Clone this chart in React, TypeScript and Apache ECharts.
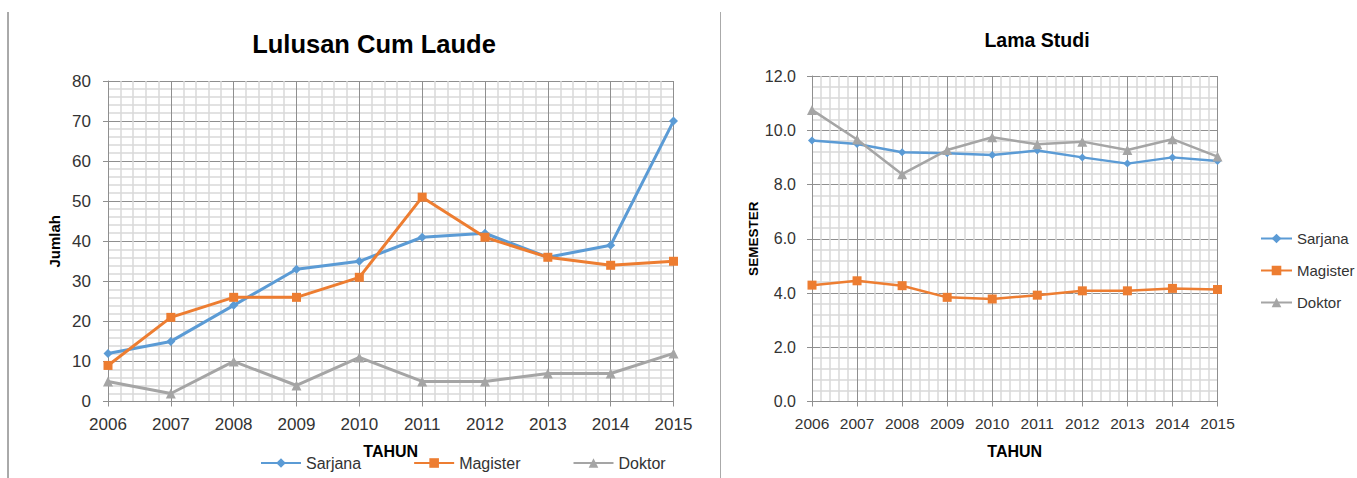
import React, { useEffect, useRef } from "react";
import * as echarts from "echarts";

// Tahun pengamatan
const years = [2006, 2007, 2008, 2009, 2010, 2011, 2012, 2013, 2014, 2015];

// Jumlah lulusan cum laude per jenjang
const cumLaudeSarjana = [12, 15, 24, 33, 35, 41, 42, 36, 39, 70];
const cumLaudeMagister = [9, 21, 26, 26, 31, 51, 41, 36, 34, 35];
const cumLaudeDoktor = [5, 2, 10, 4, 11, 5, 5, 7, 7, 12];

// Lama studi (semester) per jenjang
const studiSarjana = [9.62, 9.49, 9.19, 9.15, 9.09, 9.25, 9.0, 8.77, 9.0, 8.87];
const studiMagister = [4.29, 4.45, 4.27, 3.84, 3.78, 3.92, 4.08, 4.08, 4.17, 4.13];
const studiDoktor = [10.75, 9.66, 8.38, 9.27, 9.74, 9.48, 9.58, 9.27, 9.67, 9.03];

const seriesNames = ["Sarjana", "Magister", "Doktor"];
const colors = ["#5B9BD5", "#ED7D31", "#A5A5A5"];
const symbols = ["diamond", "rect", "triangle"];

const FONT = "'Liberation Sans', Arial, sans-serif";
const MAJOR = "#8f8f8f";
const MINOR = "#d9d9d9";

const pairs = (vals: number[]) => years.map((y, i) => [y, vals[i]]);

function xAxisFor(gridIndex: number, fontSize: number) {
  return {
    type: "value",
    gridIndex,
    min: 2006,
    max: 2015,
    interval: 1,
    name: "TAHUN",
    nameLocation: "middle",
    nameGap: 42,
    nameTextStyle: { fontFamily: FONT, fontWeight: "bold", fontSize: 16, color: "#000" },
    axisLine: { show: true, lineStyle: { color: MAJOR, width: 1 } },
    axisTick: { show: true, length: 5, lineStyle: { color: MAJOR } },
    axisLabel: {
      margin: 14,
      fontFamily: FONT,
      fontSize,
      color: "#333",
      formatter: (v: number) => String(v),
    },
    splitLine: { show: true, lineStyle: { color: MAJOR, width: 1 } },
    minorTick: { show: false, splitNumber: 5 },
    minorSplitLine: { show: true, lineStyle: { color: MINOR, width: 1.5 } },
  };
}

function yAxisFor(
  gridIndex: number,
  max: number,
  interval: number,
  name: string,
  nameSize: number,
  nameGap: number,
  fontSize: number,
  margin: number,
  digits: number
) {
  return {
    type: "value",
    gridIndex,
    min: 0,
    max,
    interval,
    name,
    nameLocation: "middle",
    nameGap,
    nameTextStyle: { fontFamily: FONT, fontWeight: "bold", fontSize: nameSize, color: "#000" },
    axisLine: { show: true, lineStyle: { color: MAJOR, width: 1 } },
    axisTick: { show: true, length: 5, lineStyle: { color: MAJOR } },
    axisLabel: {
      margin,
      fontFamily: FONT,
      fontSize,
      color: "#333",
      formatter: (v: number) => v.toFixed(digits),
    },
    splitLine: { show: true, lineStyle: { color: MAJOR, width: 1 } },
    minorTick: { show: false, splitNumber: 5 },
    minorSplitLine: { show: true, lineStyle: { color: MINOR, width: 1.5 } },
  };
}

function lineSeries(idx: number, axisIndex: number, vals: number[], lineWidth: number, sizes: number[]) {
  return {
    type: "line",
    name: seriesNames[idx],
    xAxisIndex: axisIndex,
    yAxisIndex: axisIndex,
    data: pairs(vals),
    symbol: symbols[idx],
    symbolSize: sizes[idx],
    showAllSymbol: true,
    color: colors[idx],
    lineStyle: { color: colors[idx], width: lineWidth },
    itemStyle: { color: colors[idx] },
  };
}

export default function App() {
  const ref = useRef<HTMLDivElement>(null);

  useEffect(() => {
    if (!ref.current) return;
    const chart = echarts.init(ref.current, null, { renderer: "svg" });
    const leftSizes = [9, 9, 10];
    const rightSizes = [8, 9, 10];

    chart.setOption({
      animation: false,
      backgroundColor: "#ffffff",
      title: [
        {
          text: "Lulusan Cum Laude",
          left: 374,
          top: 31,
          textAlign: "center",
          padding: 0,
          textStyle: { fontFamily: FONT, fontWeight: "bold", fontSize: 25.5, color: "#000" },
        },
        {
          text: "Lama Studi",
          left: 1037,
          top: 30,
          textAlign: "center",
          padding: 0,
          textStyle: { fontFamily: FONT, fontWeight: "bold", fontSize: 19.5, color: "#000" },
        },
      ],
      legend: [
        {
          data: seriesNames,
          orient: "horizontal",
          left: 260,
          top: 455,
          padding: 0,
          itemWidth: 40,
          itemHeight: 12,
          itemGap: 52,
          textStyle: { fontFamily: FONT, fontSize: 16, color: "#333" },
        },
        {
          data: seriesNames,
          orient: "vertical",
          left: 1260,
          top: 231,
          padding: 0,
          itemWidth: 31,
          itemHeight: 12,
          itemGap: 17,
          textStyle: { fontFamily: FONT, fontSize: 15, color: "#333" },
        },
      ],
      grid: [
        { left: 108, top: 81, width: 565.5, height: 320.5, containLabel: false },
        { left: 812, top: 76, width: 405.5, height: 325.5, containLabel: false },
      ],
      xAxis: [xAxisFor(0, 17), xAxisFor(1, 15.5)],
      yAxis: [
        yAxisFor(0, 80, 10, "Jumlah", 15, 46, 17, 17, 0),
        yAxisFor(1, 12, 2, "SEMESTER", 13.5, 52, 16, 16, 1),
      ],
      series: [
        lineSeries(0, 0, cumLaudeSarjana, 3, leftSizes),
        lineSeries(1, 0, cumLaudeMagister, 3, leftSizes),
        lineSeries(2, 0, cumLaudeDoktor, 3, leftSizes),
        lineSeries(0, 1, studiSarjana, 2.5, rightSizes),
        lineSeries(1, 1, studiMagister, 2.5, rightSizes),
        lineSeries(2, 1, studiDoktor, 2.5, rightSizes),
      ],
      graphic: [
        {
          type: "line",
          shape: { x1: 8, y1: 12, x2: 8, y2: 478 },
          style: { stroke: "#555", lineWidth: 1 },
        },
        {
          type: "line",
          shape: { x1: 720.5, y1: 12, x2: 720.5, y2: 478 },
          style: { stroke: "#aaa", lineWidth: 1 },
        },
      ],
    });

    return () => chart.dispose();
  }, []);

  return (
    <div
      ref={ref}
      style={{ position: "absolute", left: 0, top: 0, width: 1357, height: 478 }}
    />
  );
}
